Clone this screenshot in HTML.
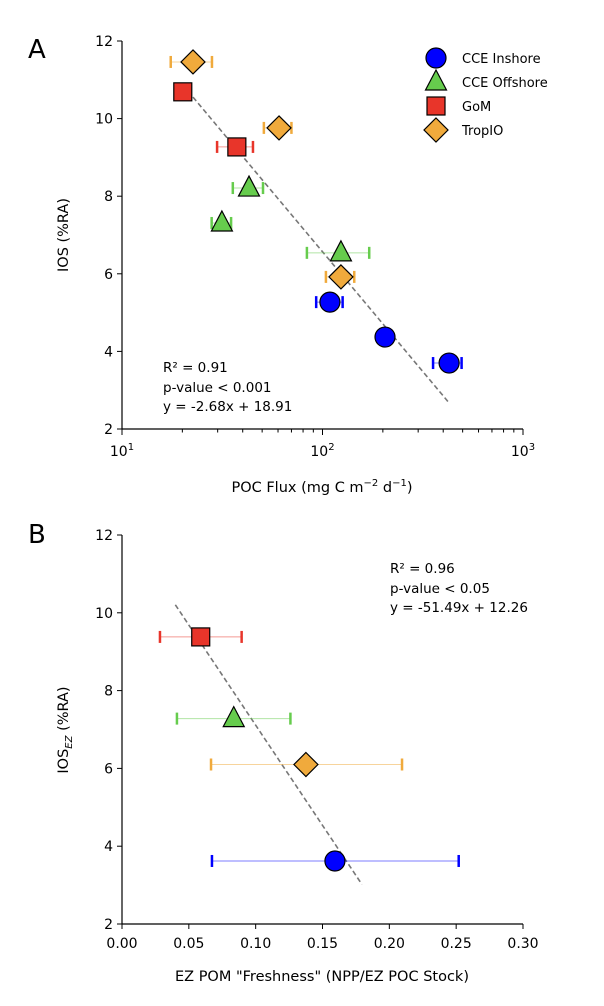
<!DOCTYPE html>
<html><head><meta charset="utf-8"><style>
html,body{margin:0;padding:0;background:#fff}
svg{display:block;font-family:"DejaVu Sans","Liberation Sans",sans-serif}
</style></head><body>
<svg id="c" width="604" height="1006" viewBox="0 0 604 1006"></svg>
<script>
// Panel A data
const groupsA = ["TropIO","TropIO","TropIO","GoM","GoM","CCE Offshore","CCE Offshore","CCE Offshore","CCE Inshore","CCE Inshore","CCE Inshore"];
const fluxA = [22.6, 60.7, 123.6, 20.1, 37.4, 43, 31.5, 123.6, 108.9, 205, 428];
const iosA = [11.46, 9.76, 5.92, 10.69, 9.27, 8.21, 7.31, 6.54, 5.27, 4.37, 3.70];
const fluxLoA = [17.5, 51, 104, null, 29.8, 35.7, 28, 83.6, 93, null, 356];
const fluxHiA = [28.1, 70, 144, null, 45, 50.5, 35, 171, 126, null, 494];
const fitA = [18.91, -2.68]; // y = b + m ln(x)
const fitRangeA = [22.6, 428];
// Panel B data
const groupsB = ["GoM","CCE Offshore","TropIO","CCE Inshore"];
const freshB = [0.0589, 0.0836, 0.1376, 0.1593];
const iosB = [9.38, 7.28, 6.10, 3.62];
const freshLoB = [0.0284, 0.0411, 0.0666, 0.0673];
const freshHiB = [0.0895, 0.126, 0.2095, 0.2519];
const fitB = [12.26, -51.49];
const fitRangeB = [0.0399, 0.1795];
const yTicks = [2,4,6,8,10,12];
const xTicksB = [0,0.05,0.10,0.15,0.20,0.25,0.30];
const xTickLabelsB = ["0.00","0.05","0.10","0.15","0.20","0.25","0.30"];
const legendNames = ["CCE Inshore","CCE Offshore","GoM","TropIO"];

const fill = {"CCE Inshore":"#0000ff","CCE Offshore":"#66cc4d","GoM":"#e8352a","TropIO":"#f0aa3c"};
const errC = {"CCE Inshore":"#0000ff","CCE Offshore":"#66cc4d","GoM":"#e8352a","TropIO":"#f0aa3c"};
const svg = document.getElementById('c');
const NS = "http://www.w3.org/2000/svg";
function el(tag, attrs, parent){const e=document.createElementNS(NS,tag);for(const k in attrs)e.setAttribute(k,attrs[k]);(parent||svg).appendChild(e);return e;}
function txt(s,x,y,attrs){const t=el('text',Object.assign({x:x,y:y,'font-size':14,fill:'#000'},attrs||{}));t.textContent=s;return t;}

const L=122,R=523;
const xA=v=>L+(R-L)/2*(Math.log10(v)-1);
const yA=v=>429-(v-2)*(388/10);
const xB=v=>L+(R-L)*v/0.30;
const yB=v=>924-(v-2)*(389/10);

function marker(g,x,y,parent,big){
  const s=big||1; let m;
  if(g==="CCE Inshore") m=el('circle',{cx:x,cy:y,r:10*s},parent);
  else if(g==="CCE Offshore") m=el('polygon',{points:`${x},${y-12*s} ${x+10.5*s},${y+8*s} ${x-10.5*s},${y+8*s}`},parent);
  else if(g==="GoM") m=el('rect',{x:x-9*s,y:y-9*s,width:18*s,height:18*s},parent);
  else m=el('polygon',{points:`${x},${y-12*s} ${x+12*s},${y} ${x},${y+12*s} ${x-12*s},${y}`},parent);
  m.setAttribute('fill',fill[g]);m.setAttribute('stroke','#000');m.setAttribute('stroke-width',1.2);
  return m;
}
function errbar(x1,x2,y,g,parent){
  el('line',{x1:x1,x2:x2,y1:y,y2:y,stroke:errC[g],'stroke-width':1,opacity:0.5},parent);
  el('line',{x1:x1,x2:x1,y1:y-6,y2:y+6,stroke:errC[g],'stroke-width':2.5},parent);
  el('line',{x1:x2,x2:x2,y1:y-6,y2:y+6,stroke:errC[g],'stroke-width':2.5},parent);
}

// ===== Panel A =====
const pA=el('g',{});

txt("A",28,58,{'font-size':26});
const axA=el('g',{},pA);
el('line',{x1:L,x2:L,y1:41,y2:429,stroke:'#000','stroke-width':1.2},axA);
el('line',{x1:L,x2:R,y1:429,y2:429,stroke:'#000','stroke-width':1.2},axA);
yTicks.forEach(t=>{el('line',{x1:L-5,x2:L,y1:yA(t),y2:yA(t),stroke:'#000'},axA);
  const l=txt(String(t),L-9,yA(t)+5,{'text-anchor':'end'},axA);});
[1,2,3].forEach(p=>{const x=xA(Math.pow(10,p));el('line',{x1:x,x2:x,y1:429,y2:435,stroke:'#000'},axA);
  const t=txt("",x,456,{'text-anchor':'middle'});
  t.textContent='10';const sp=el('tspan',{dy:-6,'font-size':10},t);sp.textContent=String(p);});
[1,2].forEach(p=>{for(let k=2;k<10;k++){const x=xA(k*Math.pow(10,p-1+1-1)*Math.pow(10,0)*Math.pow(10,p-1)/Math.pow(10,p-1)*Math.pow(10,p-1)/Math.pow(10,p-1));}});
[10,100].forEach(b=>{for(let k=2;k<10;k++){const x=xA(k*b);el('line',{x1:x,x2:x,y1:429,y2:432.5,stroke:'#000'},axA);}});
const xlA=txt("",L+200,492,{'text-anchor':'middle','font-size':14.5});
xlA.innerHTML='POC Flux (mg C m<tspan dy="-6" font-size="10">−2</tspan><tspan dy="6"> d</tspan><tspan dy="-6" font-size="10">−1</tspan><tspan dy="6">)</tspan>';
const ylA=txt("IOS (%RA)",0,0,{'text-anchor':'middle','font-size':14.5,transform:'translate(68,235) rotate(-90)'});
// fit line A
const fa=[];for(let i=0;i<=40;i++){const v=Math.exp(Math.log(fitRangeA[0])+(Math.log(fitRangeA[1])-Math.log(fitRangeA[0]))*i/40);fa.push(xA(v)+','+yA(fitA[0]+fitA[1]*Math.log(v)));}
const flA=el('polyline',{points:fa.join(' '),fill:'none',stroke:'#777','stroke-width':1.6,'stroke-dasharray':'5,3'},pA);

fluxA.forEach((v,i)=>{const g=el('g',{},pA);
  if(fluxLoA[i]!==null) errbar(xA(fluxLoA[i]),xA(fluxHiA[i]),yA(iosA[i]),groupsA[i],g);
  marker(groupsA[i],xA(v),yA(iosA[i]),g);});
const stA=el('g',{},pA);
txt("R² = 0.91",163,372,{'font-size':13.5},stA);txt("p-value < 0.001",163,392,{'font-size':13.5},stA);txt("y = -2.68x + 18.91",163,411,{'font-size':13.5},stA);
const lg=el('g',{},pA);
legendNames.forEach((n,i)=>{const e=el('g',{},lg);
  marker(n,436,58+i*24,e);txt(n,462,63+i*24,{'font-size':13},e);});

// ===== Panel B =====
const pB=el('g',{});
txt("B",28,543,{'font-size':26});
const axB=el('g',{},pB);
el('line',{x1:L,x2:L,y1:535,y2:924,stroke:'#000','stroke-width':1.2},axB);
el('line',{x1:L,x2:R,y1:924,y2:924,stroke:'#000','stroke-width':1.2},axB);
yTicks.forEach(t=>{el('line',{x1:L-5,x2:L,y1:yB(t),y2:yB(t),stroke:'#000'},axB);
  const l=txt(String(t),L-9,yB(t)+5,{'text-anchor':'end'},axB);});
xTicksB.forEach((t,i)=>{el('line',{x1:xB(t),x2:xB(t),y1:924,y2:929,stroke:'#000'},axB);
  const l=txt(xTickLabelsB[i],xB(t),948,{'text-anchor':'middle'},axB);});
txt('EZ POM "Freshness" (NPP/EZ POC Stock)',L+200,981,{'text-anchor':'middle','font-size':14.5},pB);
const ylB=txt("",0,0,{'text-anchor':'middle','font-size':14.5,transform:'translate(68,730) rotate(-90)'},pB);
ylB.innerHTML='IOS<tspan dy="4" font-size="10" font-style="italic">EZ</tspan><tspan dy="-4"> (%RA)</tspan>';
const fb=[fitRangeB[0],fitRangeB[1]].map(v=>xB(v)+','+yB(fitB[0]+fitB[1]*v));
const flB=el('polyline',{points:fb.join(' '),fill:'none',stroke:'#777','stroke-width':1.6,'stroke-dasharray':'5,3'},pB);

freshB.forEach((v,i)=>{const g=el('g',{},pB);
  errbar(xB(freshLoB[i]),xB(freshHiB[i]),yB(iosB[i]),groupsB[i],g);
  marker(groupsB[i],xB(v),yB(iosB[i]),g);});
const stB=el('g',{},pB);
txt("R² = 0.96",390,573,{'font-size':13.5},stB);txt("p-value < 0.05",390,593,{'font-size':13.5},stB);txt("y = -51.49x + 12.26",390,612,{'font-size':13.5},stB);
</script>
</body></html>
